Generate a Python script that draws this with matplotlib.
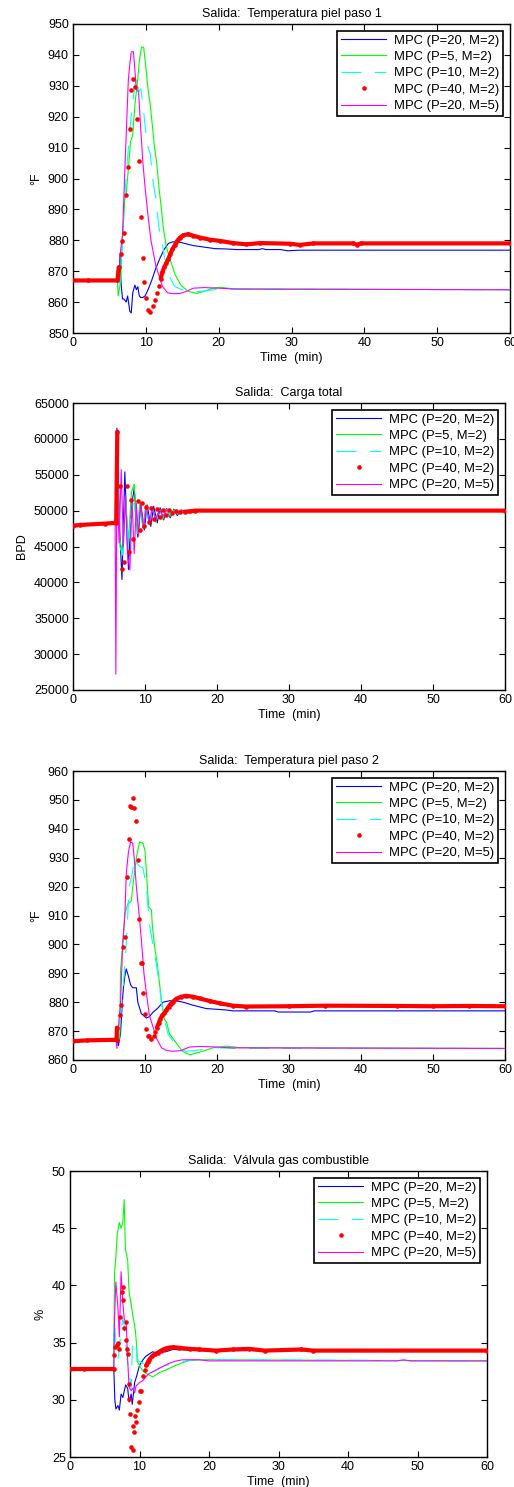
import numpy as np
import matplotlib
matplotlib.use("Agg")
import matplotlib.pyplot as plt
from matplotlib.ticker import MultipleLocator, ScalarFormatter

plt.rcParams['font.family'] = ['Liberation Sans', 'DejaVu Sans']

labels = ["MPC (P=20, M=2)", "MPC (P=5, M=2)", "MPC (P=10, M=2)",
          "MPC (P=40, M=2)", "MPC (P=20, M=5)"]

# ---------------- Panel 1: Temperatura piel paso 1 ----------------
p1_blue_t = [0, 6.3, 6.45, 6.6, 6.8, 7.0, 7.3, 7.5, 7.8, 8.0, 8.2, 8.5, 8.7, 8.9, 9.1, 9.3, 9.6, 9.9, 10.3, 10.8,
             11.3, 11.9, 12.5, 13.1, 13.7, 14.5, 15.3, 16.5, 18, 19.5, 21, 22.5, 25.5, 26, 26.5, 28.5, 29.5, 31, 60]
p1_blue_y = [867, 867, 875, 866, 861, 861, 860, 862, 857, 856.5, 863, 865.5, 864, 865, 862, 861.5, 861.5, 862, 864, 867,
             870.5, 874, 877, 879, 879.5, 879.5, 879, 878.3, 877.8, 877.3, 877.2, 877, 877, 877.3, 877, 877, 876.6, 876.8, 876.8]
p1_green_t = [0, 6.1, 6.2, 6.5, 6.8, 7.1, 7.3, 7.6, 7.9, 8.2, 8.5, 8.8, 9.1, 9.4, 9.7, 10.0, 10.3, 10.6, 10.9, 11.2,
              11.5, 11.8, 12.1, 12.4, 12.8, 13.3, 14.0, 14.8, 15.8, 17.0, 18.0, 19.2, 20.2, 22, 60]
p1_green_y = [867, 867, 862, 866, 880, 893, 895, 903, 912, 914, 924, 930, 938, 942.5, 942.5, 936, 929, 924, 917, 910,
              905, 897, 891, 884, 878, 874, 869, 865.5, 863.5, 862.8, 863.5, 864.5, 864.8, 864.3, 864]
p1_cyan_t = [0, 6.2, 6.4, 6.7, 7.0, 7.3, 7.6, 7.9, 8.2, 8.5, 8.8, 9.0, 9.3, 9.6, 9.9, 10.2, 10.6, 11.0, 11.4, 11.8,
             12.2, 12.6, 13.0, 13.5, 14.0, 15.0, 16.5, 18.0, 20.0, 60]
p1_cyan_y = [867, 867, 866, 878, 890, 901, 910, 918, 925, 930, 933, 928, 929, 924, 917, 911, 908, 899, 893, 884,
             880, 874, 870, 867, 865, 864, 863.3, 863.6, 864.2, 864]
p1_mag_t = [0, 6.3, 6.5, 6.8, 7.0, 7.2, 7.4, 7.6, 7.8, 8.0, 8.3, 8.5, 8.7, 9.0, 9.3, 9.6, 9.9, 10.3, 10.7, 11.4,
            12.3, 13.0, 13.8, 14.7, 15.6, 16.5, 18, 20, 22.5, 60]
p1_mag_y = [867, 867, 876, 882, 895, 908, 920, 932, 937, 941, 941, 935, 929, 928, 916, 905, 897, 888, 880, 871.5,
            865, 863, 862.7, 862.8, 863.5, 864.5, 864.7, 864.5, 864.2, 864]
p1_red_t = [0, 2, 6.1, 6.28, 6.55, 6.78, 7.0, 7.24, 7.56, 7.83, 8.0, 8.3, 8.47, 8.8, 9.07, 9.35, 9.62, 9.76, 10.03,
            10.35, 10.63, 10.99, 11.3, 11.54, 11.82, 12.05, 12.28, 12.55, 12.83, 13.1, 13.37, 13.65, 13.97, 14.3,
            14.66, 15.1, 15.8, 16.5, 17.4, 18.8, 20.2, 22, 23.8, 25.7, 29.8, 31.1, 33, 38.5, 39, 39.5, 60]
p1_red_y = [867, 867, 867, 871.3, 875.7, 879.8, 882.5, 894.5, 903.6, 915.9, 928.6, 932.2, 929.7, 919.2, 905.7, 887.6,
            874.4, 866.5, 861.3, 857.6, 856.8, 858.6, 860.6, 862.9, 865.2, 867.6, 869.8, 871.4, 872.7, 874.1, 875.7,
            877.1, 878.4, 879.8, 880.8, 881.6, 882, 881.5, 880.9, 880.2, 879.8, 879.1, 878.7, 879.1, 878.9, 878.5,
            879, 879, 878.6, 879, 879]

# ---------------- Panel 2: Carga total ----------------
p2_blue_t = [0, 0.9, 1.0, 4.3, 4.4, 5.9, 6.1, 6.5, 6.8, 7.2, 7.7, 8.1, 8.5, 9.0, 9.4, 9.9, 10.3, 10.8, 11.2, 11.7,
             12.1, 12.6, 13.0, 13.5, 14.0, 14.5, 15.0, 16.0, 17.0, 60]
p2_blue_y = [48000, 48000, 48200, 48200, 48300, 48300, 61500, 47000, 40400, 55400, 41800, 50500, 53100, 46300, 51000,
             47300, 50800, 47800, 50600, 48300, 50400, 48700, 50300, 49000, 50200, 49300, 50100, 49700, 50000, 50000]
p2_green_t = [0, 0.9, 1.0, 4.3, 4.4, 5.9, 6.15, 6.5, 6.9, 7.3, 7.7, 8.1, 8.5, 8.9, 9.3, 9.7, 10.1, 10.6, 11.0, 11.5,
              12.0, 12.5, 13.0, 13.5, 14.0, 14.5, 15.5, 16.5, 60]
p2_green_y = [48000, 48000, 48200, 48200, 48300, 48300, 56000, 46000, 44000, 52000, 45500, 52500, 53700, 47000, 51200,
              47500, 50800, 48000, 50500, 48400, 50300, 48800, 50200, 49200, 50100, 49500, 49800, 50000, 50000]
p2_cyan_t = [0, 0.9, 1.0, 4.3, 4.4, 5.9, 6.15, 6.5, 6.9, 7.3, 7.7, 8.1, 8.5, 8.9, 9.3, 9.7, 10.1, 10.6, 11.0, 11.5,
             12.0, 12.5, 13.0, 13.5, 14.5, 15.5, 60]
p2_cyan_y = [48000, 48000, 48200, 48200, 48300, 48300, 55500, 45000, 43800, 51700, 44500, 50800, 51000, 46800, 50800,
             47800, 50600, 48300, 50400, 48700, 50200, 49100, 50100, 49400, 49800, 50000, 50000]
p2_mag_t = [0, 0.9, 1.0, 4.3, 4.4, 5.85, 5.95, 6.1, 6.4, 6.7, 7.0, 7.3, 7.55, 7.9, 8.2, 8.5, 8.8, 9.1, 9.4, 9.8,
            10.2, 10.6, 11.0, 11.5, 12.0, 12.5, 13.0, 14.0, 15.0, 60]
p2_mag_y = [48000, 48000, 48200, 48200, 48300, 48300, 27200, 56000, 45500, 55700, 45000, 52000, 44000, 41700, 51500,
            44000, 51000, 46500, 50800, 47500, 50600, 48200, 50400, 48800, 50200, 49200, 50100, 49700, 50000, 50000]
p2_red_t = [0, 1, 4.5, 6.0, 6.15, 6.55, 6.75, 7.1, 7.55, 7.8, 8.0, 8.4, 9.0, 9.3, 9.6, 9.8, 10.2, 10.5, 10.9, 11.3,
            11.7, 12.1, 12.5, 12.9, 13.4, 13.8, 14.3, 14.8, 15.5, 16.2, 17, 60]
p2_red_y = [47900, 48000, 48200, 48300, 61000, 53500, 41800, 42800, 53400, 44300, 51500, 46000, 51300, 47300, 51000,
            47800, 50500, 48400, 50300, 48800, 50200, 49100, 50100, 49400, 50050, 49600, 50000, 49750, 49850, 49900,
            50000, 50000]

# ---------------- Panel 3: Temperatura piel paso 2 ----------------
p3_blue_t = [0, 6.2, 6.3, 6.6, 6.8, 7.0, 7.2, 7.4, 7.7, 8.0, 8.3, 8.8, 9.0, 9.5, 10.2, 10.6, 11.1, 11.8, 12.5, 13.4,
             14.3, 15.3, 16.6, 18.5, 21.3, 22.2, 28, 28.5, 33, 33.5, 60]
p3_blue_y = [866.7, 866.7, 865, 869, 878, 885, 889, 891.5, 889, 886, 885, 885, 880, 876, 874.5, 875, 876.5, 878, 880,
             880.5, 880.5, 880, 879, 877.8, 877.3, 877, 877, 876.6, 876.6, 877, 877]
p3_green_t = [0, 6.3, 6.5, 6.6, 6.9, 7.2, 7.6, 8.1, 8.3, 8.8, 9.25, 9.7, 10.0, 10.2, 10.5, 10.9, 11.0, 11.3, 11.7,
              12.0, 12.3, 12.7, 13.0, 13.4, 14.3, 15.2, 16.2, 17.6, 19.4, 21.3, 23.1, 60]
p3_green_y = [866.5, 866.5, 868, 891, 900, 910.5, 914, 915, 920, 930, 935.5, 935, 932.5, 925, 913, 912, 907, 900, 893,
              887, 880, 874, 873, 869, 866, 863, 861.8, 862.7, 864.2, 864.8, 864.3, 864]
p3_cyan_t = [0, 6.2, 6.4, 6.8, 7.2, 7.4, 7.6, 7.8, 8.3, 8.5, 8.9, 9.25, 9.7, 10.2, 10.6, 11.1, 11.6, 11.9, 12.3, 12.7,
             13.2, 13.9, 14.8, 15.7, 17.6, 19.4, 22.2, 60]
p3_cyan_y = [866.5, 866.5, 870, 880, 893, 900, 910, 920, 925.5, 930, 928, 927, 926.5, 920, 907, 900, 893, 887.5, 880,
             874, 869, 866.5, 864, 863, 863.5, 864.3, 864, 864]
p3_mag_t = [0, 6.0, 6.1, 6.25, 6.6, 6.9, 7.2, 7.4, 7.7, 8.0, 8.3, 8.5, 8.8, 9.2, 9.5, 9.85, 10.2, 10.6, 11.1, 11.6,
            12.3, 13.0, 13.9, 15.0, 16.2, 17.6, 19.9, 22.2, 60]
p3_mag_y = [866.5, 866.5, 864, 870, 879.5, 900, 910, 924.5, 932, 935.5, 935, 930, 920, 910, 901.5, 890, 883, 875.6,
            871.5, 867.5, 864.2, 863.3, 863, 863.3, 864.5, 864.7, 864.5, 864.2, 864]
p3_red_t = [0, 2, 6.05, 6.1, 6.48, 6.7, 6.9, 7.2, 7.45, 7.77, 7.96, 8.1, 8.33, 8.5, 8.7, 8.97, 9.2, 9.4, 9.55, 9.7,
            9.94, 10.2, 10.4, 10.6, 10.9, 11.2, 11.4, 11.65, 11.9, 12.1, 12.4, 12.7, 12.95, 13.3, 13.55, 13.9, 14.3,
            15.0, 15.7, 16.65, 17.6, 19, 20.4, 22.2, 24, 30, 35, 45, 50, 55, 60]
p3_red_y = [866.5, 866.8, 867, 871.2, 875.5, 879, 899, 902.7, 923.4, 936.6, 947.9, 947.7, 950.7, 947.3, 942.6, 929.1,
            908.7, 893.7, 893.7, 883.1, 876, 870.8, 868.3, 868.3, 867.3, 868.4, 869.8, 871.2, 872.7, 874.1, 875.4,
            876.2, 877.3, 878.5, 879.4, 880.2, 881.1, 881.9, 882.2, 881.9, 881.3, 880.4, 879.6, 878.8, 878.5, 878.6,
            878.8, 878.7, 878.6, 878.7, 878.6]

# ---------------- Panel 4: Valvula gas combustible ----------------
p4_blue_t = [0, 4, 6.3, 6.45, 6.6, 6.9, 7.1, 7.35, 7.6, 8.0, 8.3, 8.5, 8.8, 8.95, 9.3, 9.6, 10.0, 10.5, 10.9, 11.4,
             11.9, 12.4, 13.8, 14.8, 18.6, 25.5, 25.9, 26.3, 60]
p4_blue_y = [32.7, 32.8, 32.8, 30, 29.2, 29.5, 29.1, 30.5, 30.2, 31.3, 31, 29.8, 30.5, 29.6, 31.5, 32.1, 33, 33.5,
             33.8, 34, 34.2, 34.1, 34.2, 34.4, 34.3, 34.3, 34.5, 34.3, 34.3]
p4_green_t = [0, 4, 6.3, 6.4, 6.6, 6.8, 7.1, 7.35, 7.6, 7.8, 7.97, 8.3, 8.5, 8.8, 9.0, 9.4, 9.6, 9.65, 10.0, 10.5,
              11.0, 11.9, 12.9, 13.8, 14.8, 16.0, 17.2, 18.6, 20, 60]
p4_green_y = [32.7, 32.8, 32.8, 41, 42.5, 44.5, 45.5, 45, 45.5, 47.5, 43.2, 42.2, 39.4, 38.4, 37.5, 36.1, 34.6, 33.4,
              33, 32.5, 32.3, 32.0, 32.4, 32.6, 32.9, 33.2, 33.45, 33.5, 33.5, 33.4]
p4_cyan_t = [0, 4, 6.3, 6.4, 6.6, 6.9, 7.1, 7.35, 7.6, 7.8, 8.1, 8.3, 8.5, 8.8, 9.0, 9.3, 9.5, 9.8, 10.5, 11.0, 11.4,
             12.4, 12.9, 13.8, 15.2, 16.7, 18.6, 60]
p4_cyan_y = [32.7, 32.8, 32.8, 37, 35, 33.5, 34.5, 36, 37.1, 36.5, 34.5, 33.2, 32.5, 31, 35.2, 34.9, 34.5, 33.4,
             33.2, 32.5, 32.3, 32.6, 32.8, 33, 33.2, 33.4, 33.5, 33.4]
p4_mag_t = [0, 4, 6.3, 6.4, 6.6, 6.9, 7.1, 7.35, 7.6, 7.8, 8.1, 8.3, 8.5, 8.8, 9.0, 9.3, 9.5, 10.0, 10.5, 10.9, 11.4,
            12.4, 13.3, 14.3, 15.3, 16.2, 18.6, 20, 47, 48, 49, 60]
p4_mag_y = [32.7, 32.8, 32.8, 37, 40.3, 38, 35.5, 41.2, 38.5, 37.1, 36.5, 33.5, 31.1, 30.8, 31, 30.6, 31.2, 31.5,
            31.7, 32, 32.3, 32.6, 32.9, 33.2, 33.4, 33.5, 33.5, 33.4, 33.4, 33.5, 33.4, 33.4]
p4_red_t = [0, 2, 6.3, 6.4, 6.5, 6.7, 6.9, 7.1, 7.25, 7.45, 7.6, 7.65, 7.7, 8.0, 8.1, 8.25, 8.35, 8.45, 8.55, 8.7,
            8.8, 9.0, 9.1, 9.2, 9.3, 9.5, 9.65, 9.9, 10.0, 10.2, 10.55, 10.75, 10.95, 11.2, 11.4, 11.8, 12.2, 12.6,
            13.1, 13.6, 14.1, 14.8, 15.7, 17.2, 18.6, 21, 23.4, 25.8, 28, 33.3, 35, 60]
p4_red_y = [32.7, 32.7, 32.7, 33.9, 34.6, 34.8, 35.0, 34.4, 37.2, 39.4, 39.9, 38.7, 36.3, 36.8, 35.2, 34.4, 34.0,
            31.35, 30.1, 28.8, 25.9, 25.6, 27.7, 27.2, 28.6, 28.1, 29.1, 29.8, 30.8, 30.8, 32.1, 32.6, 33.0, 33.3,
            33.5, 33.8, 34.0, 34.1, 34.3, 34.45, 34.55, 34.6, 34.55, 34.45, 34.4, 34.3, 34.4, 34.45, 34.3, 34.4,
            34.3, 34.3]

panels = [
    dict(title="Salida:  Temperatura piel paso 1", ylabel="\u00b0F", ylim=(850, 950), ystep=10,
         series=[(p1_blue_t, p1_blue_y), (p1_green_t, p1_green_y), (p1_cyan_t, p1_cyan_y),
                 (p1_red_t, p1_red_y), (p1_mag_t, p1_mag_y)],
         band=12.0, rect=[73, 24, 510, 333]),
    dict(title="Salida:  Carga total", ylabel="BPD", ylim=(25000, 65000), ystep=5000,
         series=[(p2_blue_t, p2_blue_y), (p2_green_t, p2_green_y), (p2_cyan_t, p2_cyan_y),
                 (p2_red_t, p2_red_y), (p2_mag_t, p2_mag_y)],
         band=15.0, rect=[73, 403, 505, 690]),
    dict(title="Salida:  Temperatura piel paso 2", ylabel="\u00b0F", ylim=(860, 960), ystep=10,
         series=[(p3_blue_t, p3_blue_y), (p3_green_t, p3_green_y), (p3_cyan_t, p3_cyan_y),
                 (p3_red_t, p3_red_y), (p3_mag_t, p3_mag_y)],
         band=11.5, rect=[73, 771, 505, 1060]),
    dict(title="Salida:  V\u00e1lvula gas combustible", ylabel="%", ylim=(25, 50), ystep=5,
         series=[(p4_blue_t, p4_blue_y), (p4_green_t, p4_green_y), (p4_cyan_t, p4_cyan_y),
                 (p4_red_t, p4_red_y), (p4_mag_t, p4_mag_y)],
         band=10.9, rect=[70, 1171, 487, 1457]),
]

W, H = 514, 1487
fig = plt.figure(figsize=(W / 100, H / 100), dpi=100)
lw = 0.8
for p in panels:
    l, t, r, b = p["rect"]
    ax = fig.add_axes([l / W, 1 - b / H, (r - l) / W, (b - t) / H])
    (bt, by), (gt, gy), (ct, cy), (rt, ry), (mt, my) = p["series"]
    ax.plot(bt, by, color="#0000ff", lw=lw, label=labels[0], zorder=2)
    ax.plot(gt, gy, color="#00ff00", lw=lw, label=labels[1], zorder=2)
    ax.plot(ct, cy, color="#00ffff", lw=lw, ls=(0, (18, 12)), label=labels[2], zorder=2)
    rt_a = np.array(rt); ry_a = np.array(ry)
    ax.plot(rt_a, ry_a, ls="none", marker="o", ms=3.3, mec="none", mfc="#ff0000", label=labels[3], zorder=4)
    m1 = rt_a <= 6.3
    m2 = rt_a >= p["band"]
    ax.plot(rt_a[m1], ry_a[m1], color="#ff0000", lw=3.0, zorder=4, solid_capstyle="round")
    ax.plot(rt_a[m2], ry_a[m2], color="#ff0000", lw=3.0, zorder=4, solid_capstyle="round")
    ax.plot(mt, my, color="#ff00ff", lw=lw, label=labels[4], zorder=3)

    ax.set_xlim(0, 60)
    ax.set_ylim(*p["ylim"])
    ax.xaxis.set_major_locator(MultipleLocator(10))
    ax.yaxis.set_major_locator(MultipleLocator(p["ystep"]))
    fmt = ScalarFormatter(useOffset=False)
    fmt.set_scientific(False)
    ax.yaxis.set_major_formatter(fmt)
    ax.tick_params(direction="in", top=True, right=True, length=4, width=0.8, labelsize=9, pad=3)
    for s in ax.spines.values():
        s.set_linewidth(1.0)
    ax.set_title(p["title"], fontsize=9, pad=5)
    ax.set_xlabel("Time  (min)", fontsize=9, labelpad=2)
    ax.set_ylabel(p["ylabel"], fontsize=9)
    leg = ax.legend(loc="upper right", fontsize=9.4, frameon=True, fancybox=False, framealpha=1,
                    edgecolor="black", borderaxespad=0.5, handlelength=3.5, labelspacing=0.33,
                    borderpad=0.3, handletextpad=0.6, markerscale=1.0)
    leg.get_frame().set_linewidth(1.2)

fig.savefig("out.png", dpi=100)
